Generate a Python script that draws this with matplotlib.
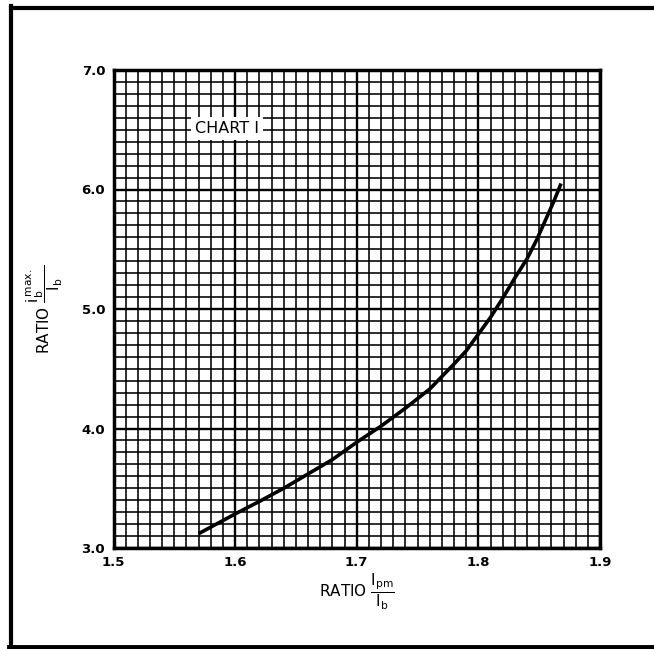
import matplotlib
matplotlib.use("Agg")
import matplotlib.pyplot as plt
from matplotlib.lines import Line2D

# Data
ratio_ipm_ib = [1.570, 1.600, 1.620, 1.640, 1.660, 1.680, 1.700, 1.720, 1.740,
                1.760, 1.780, 1.790, 1.800, 1.810, 1.820, 1.830, 1.840, 1.848,
                1.855, 1.862, 1.868]
ratio_ibmax_ib = [3.12, 3.285, 3.39, 3.50, 3.62, 3.74, 3.885, 4.02, 4.17,
                  4.33, 4.54, 4.65, 4.79, 4.93, 5.09, 5.26, 5.42, 5.58,
                  5.74, 5.90, 6.05]
x_ticks = [1.5, 1.6, 1.7, 1.8, 1.9]
x_tick_labels = ["1.5", "1.6", "1.7", "1.8", "1.9"]
y_ticks = [3.0, 4.0, 5.0, 6.0, 7.0]
y_tick_labels = ["3.0", "4.0", "5.0", "6.0", "7.0"]

W, H = 654, 649
fig = plt.figure(figsize=(W / 100, H / 100), dpi=100)
ax = fig.add_axes([113.5 / W, 1 - 548 / H, (600 - 113.5) / W, (548 - 70) / H])

ax.set_xlim(1.5, 1.9)
ax.set_ylim(3.0, 7.0)

# grid lines
for i in range(41):
    xv = 1.5 + i * 0.01
    lw = 1.7 if i % 10 == 0 else 1.15
    ax.axvline(xv, color="black", lw=lw, zorder=1)
for i in range(41):
    yv = 3.0 + i * 0.1
    lw = 1.7 if i % 10 == 0 else 1.15
    ax.axhline(yv, color="black", lw=lw, zorder=1)

ax.plot(ratio_ipm_ib, ratio_ibmax_ib, color="black", lw=2.6, zorder=3,
        solid_capstyle="butt", solid_joinstyle="round")

for s in ax.spines.values():
    s.set_linewidth(2.5)
    s.set_zorder(4)

ax.set_xticks(x_ticks)
ax.set_xticklabels(x_tick_labels, fontsize=9.5, fontweight="bold")
ax.set_yticks(y_ticks)
ax.set_yticklabels(y_tick_labels, fontsize=9.5, fontweight="bold")
ax.tick_params(length=0, pad=6)

ax.text(1.5935, 6.51, "CHART I", fontsize=11.5, ha="center", va="center",
        zorder=5, bbox=dict(facecolor="white", edgecolor="none", pad=3))

ax.set_xlabel(r"RATIO $\dfrac{\mathrm{I}_{\mathrm{pm}}}{\mathrm{I}_{\mathrm{b}}}$",
              fontsize=11, labelpad=2)
ax.set_ylabel(r"RATIO $\dfrac{\mathrm{i}_{\mathrm{b}}^{\,\mathrm{max.}}}{\mathrm{I}_{\mathrm{b}}}$",
              fontsize=11, labelpad=12)

# page frame (top, left, bottom)
fig.add_artist(Line2D([10.5 / W, 1.0], [1 - 7.5 / H, 1 - 7.5 / H], lw=3, color="black"))
fig.add_artist(Line2D([10.5 / W, 10.5 / W], [1 - 6 / H, 1 - 647 / H], lw=3, color="black"))
fig.add_artist(Line2D([9 / W, 1.0], [1 - 647 / H, 1 - 647 / H], lw=3.5, color="black"))

fig.savefig("out.png", dpi=100)
